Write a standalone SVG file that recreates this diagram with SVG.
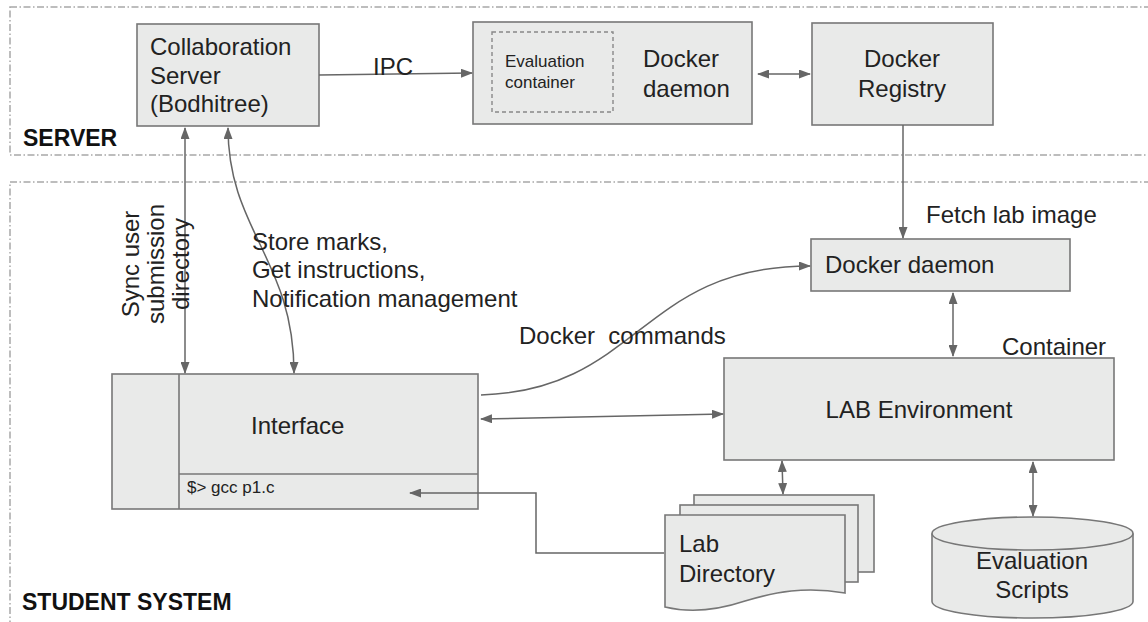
<svg xmlns="http://www.w3.org/2000/svg" width="1148" height="622" viewBox="0 0 1148 622">
<defs>
<marker id="ah" markerUnits="userSpaceOnUse" markerWidth="12" markerHeight="9" refX="11" refY="4.5" orient="auto-start-reverse">
<path d="M0,0 L12,4.5 L0,9 z" fill="#666"/>
</marker>
<style>
.region{fill:none;stroke:#a8a8a8;stroke-width:1.5;stroke-dasharray:7 2.5 1.5 2.5}
.box{fill:#e9eae9;stroke:#777;stroke-width:1.6}
.t{font-family:"Liberation Sans",Arial,sans-serif;font-size:24px;fill:#222}
.s{font-size:17px}
.b{font-weight:bold;font-size:23px;fill:#111}
.c{stroke:#666;stroke-width:1.5;fill:none}
.one{marker-end:url(#ah)}
.two{marker-start:url(#ah);marker-end:url(#ah)}
</style>
</defs>
<rect width="1148" height="622" fill="#fff"/>
<g id="server-region">
<rect class="region" x="10" y="7" width="1160" height="148"/>
<text class="t b" x="23" y="146">SERVER</text>
</g>
<g id="student-region">
<rect class="region" x="10" y="182" width="1160" height="460"/>
<text class="t b" x="22" y="610">STUDENT SYSTEM</text>
</g>
<g id="collab-server">
<rect class="box" x="137" y="24" width="182" height="102"/>
<text class="t" x="150" y="55">Collaboration</text>
<text class="t" x="150" y="84">Server</text>
<text class="t" x="150" y="112">(Bodhitree)</text>
</g>
<g id="server-docker-daemon">
<rect class="box" x="473" y="22" width="279" height="102"/>
<rect x="492" y="32" width="121" height="80" fill="none" stroke="#888" stroke-width="1.4" stroke-dasharray="4 3"/>
<text class="t s" x="505" y="67">Evaluation</text>
<text class="t s" x="505" y="88">container</text>
<text class="t" x="643" y="67">Docker</text>
<text class="t" x="643" y="97">daemon</text>
</g>
<g id="docker-registry">
<rect class="box" x="812" y="23" width="181" height="102"/>
<text class="t" x="902" y="67" text-anchor="middle">Docker</text>
<text class="t" x="902" y="97" text-anchor="middle">Registry</text>
</g>
<g id="student-docker-daemon">
<rect class="box" x="811" y="239" width="259" height="52"/>
<text class="t" x="825" y="273">Docker daemon</text>
</g>
<g id="lab-environment">
<rect class="box" x="724" y="358" width="390" height="102"/>
<text class="t" x="919" y="418" text-anchor="middle">LAB Environment</text>
</g>
<g id="interface">
<rect class="box" x="112" y="374" width="366" height="135"/>
<line x1="179" y1="374" x2="179" y2="509" stroke="#777" stroke-width="1.6"/>
<line x1="179" y1="474" x2="478" y2="474" stroke="#777" stroke-width="1.6"/>
<text class="t" x="251" y="434">Interface</text>
<text class="t s" x="187" y="493">$&gt; gcc p1.c</text>
</g>
<g id="lab-directory">
<rect class="box" x="694" y="495" width="180" height="77"/>
<rect class="box" x="680" y="505" width="178" height="77"/>
<path class="box" d="M665,515 H845 V593 C805,586 775,592 745,601 C715,611 690,613 665,607 Z"/>
<text class="t" x="679" y="552">Lab</text>
<text class="t" x="679" y="582">Directory</text>
</g>
<g id="evaluation-scripts">
<path class="box" d="M932,533.5 V601.5 A100.5,16.5 0 0 0 1133,601.5 V533.5 A100.5,16.5 0 0 0 932,533.5 Z"/>
<path d="M932,533.5 A100.5,16.5 0 0 0 1133,533.5" fill="none" stroke="#777" stroke-width="1.6"/>
<text class="t" x="1032" y="569" text-anchor="middle">Evaluation</text>
<text class="t" x="1032" y="598" text-anchor="middle">Scripts</text>
</g>
<g id="connectors">
<path class="c one" d="M319,75 L472,73"/>
<text class="t" x="373" y="75">IPC</text>
<path class="c two" d="M758,74 L810,74"/>
<path class="c one" d="M903,125 L903,238"/>
<text class="t" x="926" y="223">Fetch lab image</text>
<path class="c two" d="M185,128 L185,373"/>
<g class="t" font-size="25">
<text transform="translate(139,264) rotate(-90)" text-anchor="middle">Sync user</text>
<text transform="translate(164,264) rotate(-90)" text-anchor="middle">submission</text>
<text transform="translate(189,264) rotate(-90)" text-anchor="middle">directory</text>
</g>
<path class="c two" d="M228,128 C228,230 294,260 294,373"/>
<text class="t" x="252" y="250" font-size="23.5">Store marks,</text>
<text class="t" x="252" y="278" font-size="23.5">Get instructions,</text>
<text class="t" x="252" y="307" font-size="23.5">Notification management</text>
<path class="c one" d="M481,395 C640,390 640,266 810,266"/>
<text class="t" x="519" y="344" xml:space="preserve">Docker  commands</text>
<path class="c two" d="M953,293 L953,356"/>
<text class="t" x="1002" y="355">Container</text>
<path class="c two" d="M481,419 L723,414"/>
<path class="c two" d="M782,461 L783,494"/>
<path class="c two" d="M1033,462 L1033,516"/>
<path class="c" d="M664,553 H536 V493 H410" marker-end="url(#ah)"/>
</g>
</svg>
